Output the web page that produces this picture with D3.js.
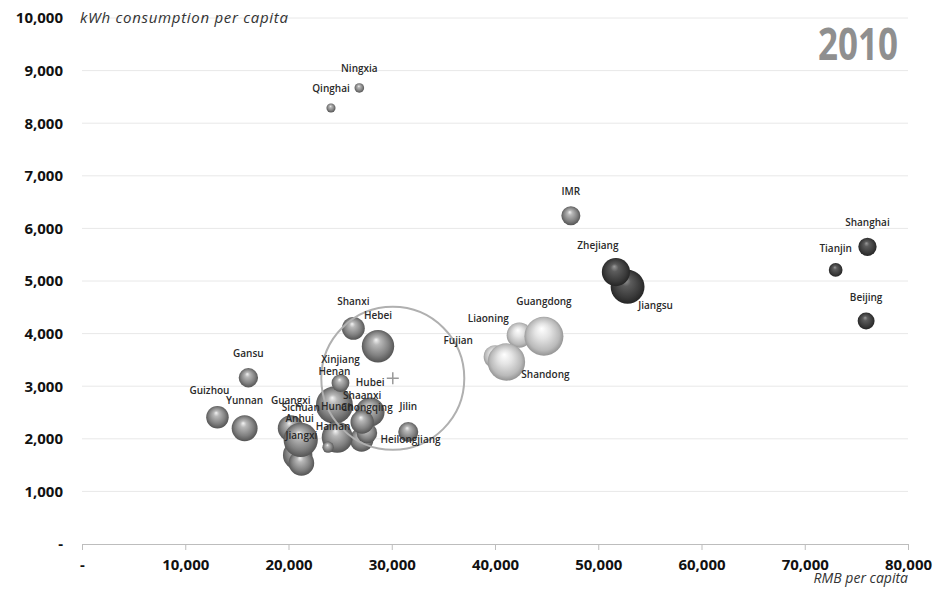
<!DOCTYPE html>
<html>
<head>
<meta charset="utf-8">
<script src="https://cdn.jsdelivr.net/npm/d3@7"></script>
<style>
  body { margin: 0; background: #fff; }
  svg { font-family: "Open Sans", "Liberation Sans", sans-serif; }
</style>
</head>
<body>
<div id="chart"></div>
<script>
// Province data, 2010
const provinces = ['Beijing', 'Tianjin', 'Hebei', 'Shanxi', 'IMR', 'Liaoning', 'Jilin', 'Heilongjiang',
    'Shanghai', 'Jiangsu', 'Zhejiang', 'Anhui', 'Fujian', 'Jiangxi', 'Shandong', 'Henan', 'Hubei',
    'Hunan', 'Guangdong', 'Guangxi', 'Hainan', 'Chongqing', 'Sichuan', 'Guizhou', 'Yunnan',
    'Shaanxi', 'Gansu', 'Qinghai', 'Ningxia', 'Xinjiang'];
// RMB per capita
const gdpPerCapita = [75943, 72994, 28668, 26283, 47347, 42355, 31599, 27076,
    76074, 52840, 51711, 20888, 40025, 21253, 41106, 24446, 27906,
    24719, 44736, 20219, 23831, 27596, 21182, 13119, 15752,
    27133, 16113, 24115, 26860, 25034];
// kWh consumption per capita
const kwhPerCapita = [4240, 5210, 3760, 4100, 6240, 3970, 2130, 1980,
    5650, 4890, 5170, 1690, 3560, 1540, 3460, 2640, 2510,
    2030, 3950, 2200, 1840, 2110, 1980, 2410, 2200,
    2320, 3160, 8290, 8670, 3060];
// population (millions) -> bubble size
const population = [19.6, 12.9, 71.9, 35.7, 24.7, 43.7, 27.5, 38.3,
    23.0, 78.7, 54.4, 59.5, 36.9, 44.6, 95.8, 94.0, 57.2,
    65.7, 104.3, 46.0, 8.7, 28.8, 80.4, 34.7, 46.0,
    37.3, 25.6, 5.6, 6.3, 21.8];
// shading group
const group = ['dark', 'dark', 'mid', 'mid', 'mid', 'light', 'mid', 'mid',
    'dark', 'dark', 'dark', 'mid', 'light', 'mid', 'light', 'mid', 'mid',
    'mid', 'light', 'mid', 'mid', 'mid', 'mid', 'mid', 'mid',
    'mid', 'mid', 'mid', 'mid', 'mid'];

const xTicks = [0, 10000, 20000, 30000, 40000, 50000, 60000, 70000, 80000];
const yTicks = [0, 1000, 2000, 3000, 4000, 5000, 6000, 7000, 8000, 9000, 10000];
const average = { x: 30100, y: 3150 };

// labels sit above the bubble unless nudged here (pixels, label centre from bubble centre)
const labelNudge = {
    Liaoning: [-31, -17], Fujian: [-37, -16], Shandong: [39, 12],
    Zhejiang: [-18, -27], Jiangsu: [28, 19], Heilongjiang: [49, 0],
    Guizhou: [-8, null], Hainan: [5, null], Anhui: [2, -37]
};

const data = provinces.map((p, i) => ({
    name: p, x: gdpPerCapita[i], y: kwhPerCapita[i], pop: population[i], group: group[i]
}));

const svgWidth = 940;
const svgHeight = 606;
const margin = { top: 18, right: 32, bottom: 62, left: 82 };
const width = svgWidth - margin.left - margin.right;
const height = svgHeight - margin.top - margin.bottom;

const svg = d3.select('#chart')
    .append('svg')
    .attr('width', svgWidth)
    .attr('height', svgHeight);

// sphere gradients
const defs = svg.append('defs');
const shades = {
    mid:   [['0%', '#f4f4f4'], ['22%', '#b8b8b8'], ['65%', '#818181'], ['100%', '#4a4a4a']],
    light: [['0%', '#ffffff'], ['35%', '#e4e4e4'], ['75%', '#bababa'], ['100%', '#868686']],
    dark:  [['0%', '#9a9a9a'], ['25%', '#5c5c5c'], ['70%', '#3a3a3a'], ['100%', '#1f1f1f']]
};
Object.entries(shades).forEach(([key, stops]) => {
    const g = defs.append('radialGradient')
        .attr('id', 'ball-' + key)
        .attr('cx', '50%').attr('cy', '50%').attr('r', '55%')
        .attr('fx', '44%').attr('fy', '30%');
    stops.forEach(s => g.append('stop').attr('offset', s[0]).attr('stop-color', s[1]));
});

const chartGroup = svg.append('g')
    .attr('transform', `translate(${margin.left}, ${margin.top})`);

const xScale = d3.scaleLinear().domain([0, 80000]).range([0, width]);
const yScale = d3.scaleLinear().domain([0, 10000]).range([height, 0]);
const rScale = d3.scaleSqrt().domain([0, 104.3]).range([0, 19.5]);

const fmt = d => d === 0 ? '-' : d3.format(',')(d);

// gridlines
chartGroup.append('g')
    .selectAll('line')
    .data(yTicks.filter(d => d > 0))
    .enter()
    .append('line')
    .attr('x1', 0).attr('x2', width)
    .attr('y1', d => yScale(d)).attr('y2', d => yScale(d))
    .attr('stroke', '#e8e8e8')
    .attr('stroke-width', 1);

// y axis (labels only)
const yAxis = chartGroup.append('g')
    .call(d3.axisLeft(yScale).tickValues(yTicks).tickFormat(fmt).tickSize(0).tickPadding(19));
yAxis.select('.domain').remove();
yAxis.selectAll('text')
    .attr('font-size', 15).attr('font-weight', 700).attr('fill', '#111')
    .attr('font-family', '"Open Sans", sans-serif');

// x axis
const xAxis = chartGroup.append('g')
    .attr('transform', `translate(0, ${height})`)
    .call(d3.axisBottom(xScale).tickValues(xTicks).tickFormat(fmt).tickSize(6).tickPadding(9));
xAxis.select('.domain').attr('stroke', '#bdbdbd');
xAxis.selectAll('.tick line').attr('stroke', '#bdbdbd');
xAxis.selectAll('text')
    .attr('font-size', 15).attr('font-weight', 700).attr('fill', '#111')
    .attr('font-family', '"Open Sans", sans-serif');

// bubbles
chartGroup.selectAll('.bubble')
    .data(data)
    .enter()
    .append('circle')
    .classed('bubble', true)
    .attr('cx', d => xScale(d.x))
    .attr('cy', d => yScale(d.y))
    .attr('r', d => rScale(d.pop))
    .attr('fill', d => `url(#ball-${d.group})`);

// average ring and cross
const ax = xScale(average.x);
const ay = yScale(average.y);
chartGroup.append('circle')
    .attr('cx', ax).attr('cy', ay).attr('r', 71.5)
    .attr('fill', 'none')
    .attr('stroke', '#b0b0b0')
    .attr('stroke-width', 2);
chartGroup.append('path')
    .attr('d', `M${ax - 6},${ay}H${ax + 6}M${ax},${ay - 6}V${ay + 6}`)
    .attr('stroke', '#9a9a9a')
    .attr('stroke-width', 1.5);

// bubble labels
chartGroup.selectAll('.bubbleLabel')
    .data(data)
    .enter()
    .append('text')
    .classed('bubbleLabel', true)
    .attr('x', d => {
        const n = labelNudge[d.name];
        return xScale(d.x) + (n ? n[0] : 0);
    })
    .attr('y', d => {
        const n = labelNudge[d.name];
        const dy = (n && n[1] !== null) ? n[1] : -(rScale(d.pop) + 15);
        return yScale(d.y) + dy;
    })
    .attr('dy', '0.35em')
    .attr('text-anchor', 'middle')
    .attr('font-size', 10)
    .attr('font-weight', 600)
    .attr('fill', '#2a2a2a')
    .text(d => d.name);

// axis titles
svg.append('text')
    .attr('x', 80).attr('y', 23)
    .attr('font-size', 15).attr('font-style', 'italic').attr('fill', '#333')
    .attr('textLength', 208).attr('lengthAdjust', 'spacing')
    .text('kWh consumption per capita');
svg.append('text')
    .attr('x', 908).attr('y', 583)
    .attr('text-anchor', 'end')
    .attr('font-size', 14).attr('font-style', 'italic').attr('fill', '#333')
    .text('RMB per capita');

// year stamp
svg.append('text')
    .attr('x', 898).attr('y', 60)
    .attr('text-anchor', 'end')
    .attr('font-size', 44).attr('font-weight', 700).attr('fill', '#8f8f8f')
    .attr('textLength', 80).attr('lengthAdjust', 'spacingAndGlyphs')
    .text('2010');
</script>
</body>
</html>
